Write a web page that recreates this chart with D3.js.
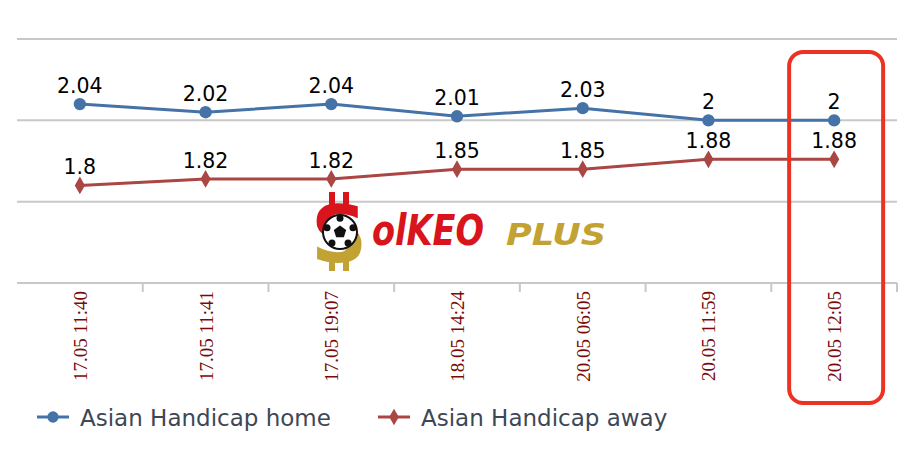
<!DOCTYPE html>
<html>
<head>
<meta charset="utf-8">
<script src="https://cdn.jsdelivr.net/npm/d3@7"></script>
<style>
  body { margin: 0; background: #fff; }
  svg { display: block; }
</style>
</head>
<body>
<div id="chart"></div>
<script>
// values
var times = ['17.05 11:40', '17.05 11:41', '17.05 19:07', '18.05 14:24', '20.05 06:05', '20.05 11:59', '20.05 12:05']
var homeOdds = [2.04, 2.02, 2.04, 2.01, 2.03, 2, 2]
var awayOdds = [1.8, 1.82, 1.82, 1.85, 1.85, 1.88, 1.88]
var seriesNames = ['Asian Handicap home', 'Asian Handicap away']
// each series sits on its own hidden y axis
var homeTicks = [1.6, 1.8, 2.0, 2.2]
var awayTicks = [1.5, 1.75, 2.0, 2.25]
var markedTime = '20.05 12:05'

var W = 916, H = 464
var blue = '#4572A7', red = '#AA4643', grid = '#c8c8c8'

var svg = d3.select('#chart').append('svg').attr('width', W).attr('height', H)

var x = d3.scaleBand().domain(times).range([17, 897])
var yHome = d3.scaleLinear().domain([homeTicks[0], homeTicks[3]]).range([283, 39])
var yAway = d3.scaleLinear().domain([awayTicks[0], awayTicks[3]]).range([283, 39])
function cx (t) { return x(t) + x.bandwidth() / 2 }

// grid lines
svg.selectAll('.grid').data(homeTicks.slice(1))
  .enter().append('line')
  .attr('x1', 17).attr('x2', 897)
  .attr('y1', function (d) { return yHome(d) }).attr('y2', function (d) { return yHome(d) })
  .attr('stroke', grid).attr('stroke-width', 2)

// watermark logo
function drawLogo () {
  var g = svg.append('g').attr('class', 'logo')
  var defs = svg.append('defs')
  var grad = defs.append('linearGradient').attr('id', 'dollar').attr('x1', 0).attr('y1', 0).attr('x2', 0).attr('y2', 1)
  grad.append('stop').attr('offset', '50%').attr('stop-color', '#d8141c')
  grad.append('stop').attr('offset', '50%').attr('stop-color', '#c2a233')
  // bars of the dollar sign
  g.append('rect').attr('x', 329).attr('y', 192).attr('width', 6).attr('height', 16).attr('fill', '#d8141c')
  g.append('rect').attr('x', 343).attr('y', 192).attr('width', 6).attr('height', 16).attr('fill', '#d8141c')
  g.append('rect').attr('x', 329).attr('y', 256).attr('width', 6).attr('height', 15).attr('fill', '#c2a233')
  g.append('rect').attr('x', 343).attr('y', 256).attr('width', 6).attr('height', 15).attr('fill', '#c2a233')
  g.append('text').attr('x', 339).attr('y', 262).attr('text-anchor', 'middle')
    .attr('font-family', 'DejaVu Sans').attr('font-weight', 'bold').attr('font-size', 78)
    .attr('fill', 'url(#dollar)').text('S')
  // ball
  g.append('circle').attr('cx', 340).attr('cy', 232).attr('r', 17).attr('fill', '#fff').attr('stroke', '#111').attr('stroke-width', 2)
  var pent = d3.range(5).map(function (i) {
    var a = -Math.PI / 2 + i * 2 * Math.PI / 5
    return [340 + 6.5 * Math.cos(a), 232 + 6.5 * Math.sin(a)]
  })
  g.append('polygon').attr('points', pent.join(' ')).attr('fill', '#111')
  pent.forEach(function (p) {
    var dx = p[0] - 340, dy = p[1] - 232
    g.append('circle').attr('cx', 340 + dx * 2.1).attr('cy', 232 + dy * 2.1).attr('r', 3.5).attr('fill', '#111')
  })
  g.append('text').attr('x', 372).attr('y', 245).attr('textLength', 112).attr('lengthAdjust', 'spacingAndGlyphs')
    .attr('font-family', 'DejaVu Sans').attr('font-weight', 'bold').attr('font-style', 'italic').attr('font-size', 42)
    .attr('fill', '#d8141c').text('olKEO')
  g.append('text').attr('x', 506).attr('y', 245).attr('textLength', 100).attr('lengthAdjust', 'spacingAndGlyphs')
    .attr('font-family', 'DejaVu Sans').attr('font-weight', 'bold').attr('font-style', 'italic').attr('font-size', 31)
    .attr('fill', '#c2a233').text('PLUS')
}
drawLogo()

// x axis line, ticks between categories, rotated labels
svg.append('line').attr('x1', 17).attr('x2', 897).attr('y1', 283).attr('y2', 283)
  .attr('stroke', grid).attr('stroke-width', 2)
svg.selectAll('.tick').data(times)
  .enter().append('line')
  .attr('x1', function (d) { return x(d) + x.bandwidth() }).attr('x2', function (d) { return x(d) + x.bandwidth() })
  .attr('y1', 283).attr('y2', 292)
  .attr('stroke', grid).attr('stroke-width', 2)
svg.selectAll('.xlabel').data(times)
  .enter().append('text')
  .attr('transform', function (d) { return 'translate(' + (cx(d) + 7) + ',291) rotate(-90)' })
  .attr('text-anchor', 'end')
  .attr('font-family', 'Liberation Serif').attr('font-size', 19)
  .attr('fill', '#7a0a0a')
  .text(function (d) { return d })

// series
function drawSeries (values, y, color, marker) {
  var pts = values.map(function (v, i) { return [cx(times[i]), y(v), v] })
  svg.append('path').datum(pts)
    .attr('d', d3.line())
    .attr('fill', 'none').attr('stroke', color).attr('stroke-width', 3)
  svg.selectAll(null).data(pts)
    .enter().append('path')
    .attr('transform', function (d) { return 'translate(' + d[0] + ',' + d[1] + ')' })
    .attr('d', d3.symbol().type(marker).size(marker == d3.symbolCircle ? 120 : 90))
    .attr('fill', color)
  svg.selectAll(null).data(pts)
    .enter().append('text')
    .attr('x', function (d) { return d[0] }).attr('y', function (d) { return d[1] - 11 })
    .attr('text-anchor', 'middle')
    .attr('font-family', 'DejaVu Sans').attr('font-size', 20.5).attr('fill', '#000')
    .text(function (d) { return d[2] })
}
drawSeries(homeOdds, yHome, blue, d3.symbolCircle)
drawSeries(awayOdds, yAway, red, d3.symbolDiamond)

// highlight box round the last reading
svg.append('rect')
  .attr('x', cx(markedTime) - 45).attr('y', 52).attr('width', 94).attr('height', 351)
  .attr('rx', 14).attr('fill', 'none').attr('stroke', '#ec3323').attr('stroke-width', 4)

// legend
var legend = [{name: seriesNames[0], color: blue, marker: d3.symbolCircle, x: 37},
              {name: seriesNames[1], color: red, marker: d3.symbolDiamond, x: 378}]
legend.forEach(function (l) {
  svg.append('line').attr('x1', l.x).attr('x2', l.x + 32).attr('y1', 417).attr('y2', 417)
    .attr('stroke', l.color).attr('stroke-width', 3)
  svg.append('path').attr('transform', 'translate(' + (l.x + 16) + ',417)')
    .attr('d', d3.symbol().type(l.marker).size(l.marker == d3.symbolCircle ? 100 : 80))
    .attr('fill', l.color)
  svg.append('text').attr('x', l.x + 43).attr('y', 426)
    .attr('font-family', 'DejaVu Sans').attr('font-size', 23).attr('fill', '#3e4756')
    .text(l.name)
})
</script>
</body>
</html>
